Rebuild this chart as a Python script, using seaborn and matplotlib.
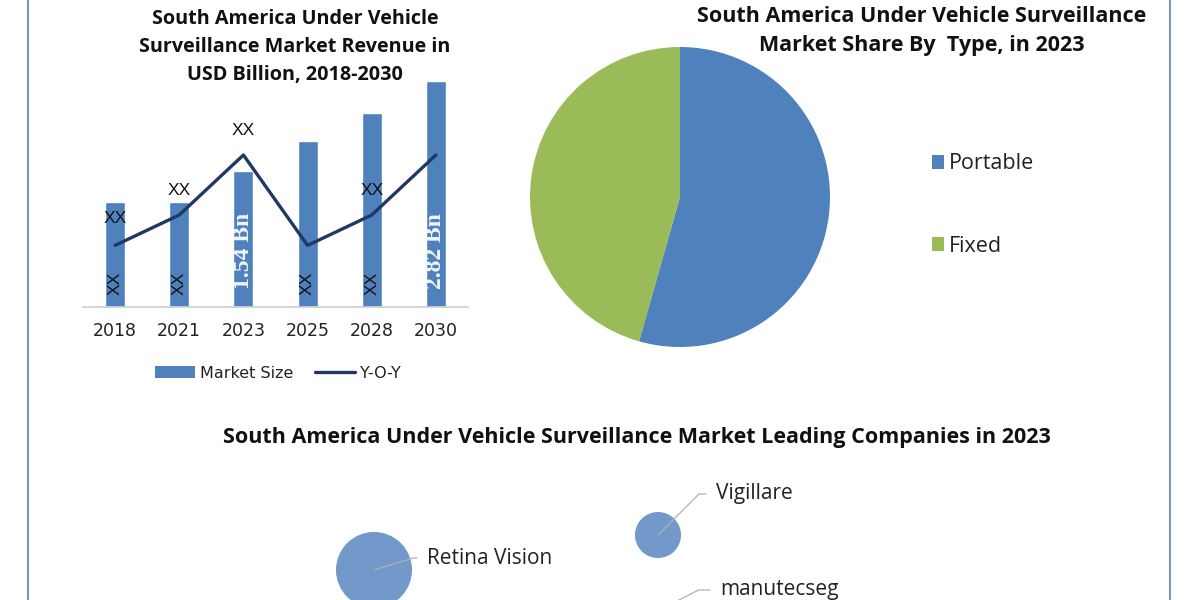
import numpy as np
import pandas as pd
import matplotlib
matplotlib.use("Agg")
import matplotlib.pyplot as plt
from matplotlib.patches import Patch
from matplotlib.lines import Line2D
import seaborn as sns

# ---- data ----
years = ["2018", "2021", "2023", "2025", "2028", "2030"]
market_size = [1.31, 1.31, 1.70, 2.07, 2.43, 2.82]
yoy = [0.77, 1.15, 1.90, 0.77, 1.15, 1.90]
bar_labels = ["XX", "XX", "1.54 Bn", "XX", "XX", "2.82 Bn"]

share_types = ["Portable", "Fixed"]
share_values = [54.4, 45.6]

companies = ["Retina Vision", "Vigillare", "manutecseg"]
bubble_x = [2.175, 5.725, 5.3]
bubble_y = [0.75, 1.625, -0.7]
bubble_size = [3000, 1100, 1000]
label_x = [2.84, 6.45, 6.5]
label_y = [1.05, 2.65, 0.25]
leader_angle = [17, 45, 27]

BLUE = "#4F81BD"
GREEN = "#9BBB59"
NAVY = "#1F3864"
BUBBLE = "#7399CB"

sns.set_theme(style="white")
plt.rcParams["font.family"] = ["Open Sans", "DejaVu Sans"]

fig = plt.figure(figsize=(12, 6), dpi=100)
fig.patch.set_facecolor("white")

# frame lines left / right
fig.add_artist(Line2D([28 / 1200, 28 / 1200], [0, 1], color="#7f95a8", lw=1.5))
fig.add_artist(Line2D([1170 / 1200, 1170 / 1200], [0, 1], color="#7f95a8", lw=1.5))

# ---- bar + line chart ----
ax = fig.add_axes([83 / 1200, 293 / 600, 385 / 1200, 240 / 600])
df = pd.DataFrame({"year": years, "size": market_size, "yoy": yoy})
sns.barplot(data=df, x="year", y="size", color=BLUE, width=0.31, saturation=1, ax=ax)
sns.lineplot(x=np.arange(len(years)), y=yoy, color=NAVY, lw=2.4, sort=False, ax=ax)
ax.set_xlim(-0.5, 5.5)
ax.set_ylim(0, 3.0)
ax.set_xlabel("")
ax.set_ylabel("")
ax.set_yticks([])
for s in ["top", "right", "left"]:
    ax.spines[s].set_visible(False)
ax.spines["bottom"].set_color("#d0d0d0")
ax.tick_params(axis="x", length=0, pad=11, labelsize=12.5, labelcolor="#222222",
               labelfontfamily="DejaVu Sans")

xx_font = dict(family="Liberation Sans", fontsize=12.5, color="#111111", ha="center", va="center")
# rotated labels inside the bars
for i, lab in enumerate(bar_labels):
    if lab == "XX":
        ax.text(i, 0.30, lab, rotation=90, **xx_font)
    else:
        ax.text(i, 0.70, lab, rotation=90, family="Liberation Serif", fontweight="bold",
                fontsize=17, color="#f2f6fb", ha="center", va="center")
# XX labels on the line
ax.text(0, 1.11, "XX", **xx_font)
ax.text(1, 1.46, "XX", **xx_font)
ax.text(2, 2.21, "XX", **xx_font)
ax.text(4, 1.46, "XX", **xx_font)

handles = [Patch(facecolor=BLUE, edgecolor="none"), Line2D([0], [0], color=NAVY, lw=2.4)]
fig.legend(handles, ["Market Size", "Y-O-Y"], loc="center", bbox_to_anchor=(278 / 1200, 1 - 373 / 600),
           ncol=2, frameon=False, handlelength=2.5, handletextpad=0.3, columnspacing=1.4,
           prop={"family": "DejaVu Sans", "size": 11.5}, labelcolor="#222222")

fig.text(295 / 1200, 1 - 47 / 600,
         "South America Under Vehicle\nSurveillance Market Revenue in\nUSD Billion, 2018-2030",
         ha="center", va="center", fontsize=14.2, fontweight="bold", linespacing=1.55, color="#111111")

# ---- pie ----
axp = fig.add_axes([530 / 1200, 253 / 600, 300 / 1200, 300 / 600])
wedges, _ = axp.pie(share_values, colors=[BLUE, GREEN], startangle=90, counterclock=False,
                    wedgeprops=dict(linewidth=0))
axp.set_xlim(-1, 1)
axp.set_ylim(-1, 1)
axp.set_aspect("equal")
fig.legend(wedges, share_types, loc="center left", bbox_to_anchor=(913 / 1200, 1 - 205 / 600),
           frameon=False, handlelength=0.55, handleheight=0.65, handletextpad=0.2,
           labelspacing=2.85, prop={"family": "Open Sans", "size": 15.5}, labelcolor="#222222")
fig.text(922 / 1200, 1 - 31 / 600,
         "South America Under Vehicle Surveillance\nMarket Share By  Type, in 2023",
         ha="center", va="center", fontsize=15.5, fontweight="bold", linespacing=1.5, color="#111111")

# ---- bubbles ----
fig.text(637 / 1200, 1 - 438 / 600,
         "South America Under Vehicle Surveillance Market Leading Companies in 2023",
         ha="center", va="center", fontsize=15.5, fontweight="bold", color="#111111")
axb = fig.add_axes([200 / 1200, 0, 800 / 1200, 140 / 600])
bdf = pd.DataFrame({"x": bubble_x, "y": bubble_y, "s": bubble_size, "name": companies})
sns.scatterplot(data=bdf, x="x", y="y", size="s", sizes=(min(bubble_size), max(bubble_size)),
                color=BUBBLE, edgecolor="none", legend=False, ax=axb)
for i, name in enumerate(companies):
    axb.annotate(name, xy=(bubble_x[i], bubble_y[i]), xytext=(label_x[i], label_y[i]),
                 ha="left", va="center", fontsize=15, color="#222222", annotation_clip=False,
                 arrowprops=dict(arrowstyle="-", color="#b0b0b0", lw=0.9, shrinkA=5, shrinkB=0,
                                 connectionstyle=f"angle,angleA=0,angleB={leader_angle[i]},rad=0"))
axb.set_xlim(0, 10)
axb.set_ylim(0, 3.5)
axb.axis("off")

fig.savefig("out.png", dpi=100, facecolor="white")
